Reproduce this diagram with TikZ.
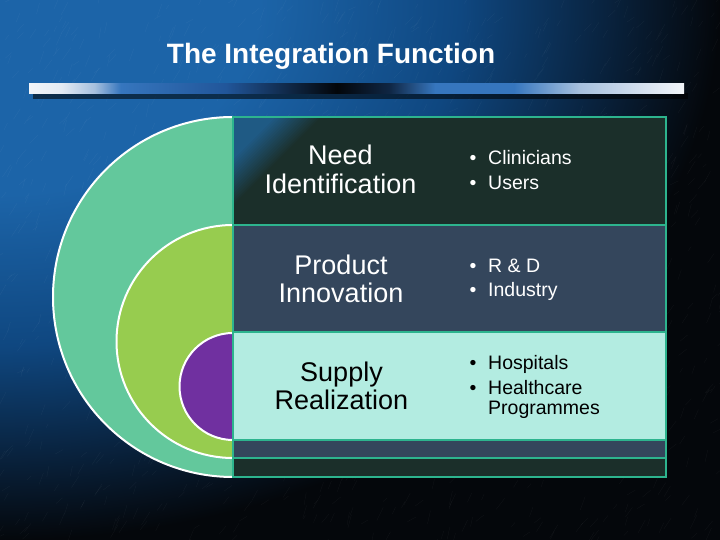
\documentclass[tikz,border=0pt]{standalone}
\usepackage{fontspec}
\setmainfont{Liberation Sans}
\definecolor{bgA}{HTML}{1C64A8}
\definecolor{bgB}{HTML}{0F4780}
\definecolor{bgC}{HTML}{09233F}
\definecolor{bgD}{HTML}{04070B}
\definecolor{barW}{HTML}{F2F5F9}
\definecolor{barL}{HTML}{A6C0DE}
\definecolor{barB}{HTML}{3676BE}
\definecolor{barM}{HTML}{21569A}
\definecolor{barK}{HTML}{03060A}
\definecolor{discT}{HTML}{63C89C}
\definecolor{discG}{HTML}{97CC4F}
\definecolor{discP}{HTML}{7030A0}
\definecolor{rowDark}{HTML}{1B2F2A}
\definecolor{rowBlue}{HTML}{1F5A84}
\definecolor{rowSlate}{HTML}{34465C}
\definecolor{rowLight}{HTML}{B3ECE1}
\definecolor{tblBorder}{HTML}{2DB48E}
\pgfdeclareradialshading{bgshade}{\pgfpoint{0bp}{0bp}}{color(0bp)=(bgA); color(9bp)=(bgA); color(16bp)=(bgB); color(21bp)=(bgC); color(25bp)=(bgD); color(50bp)=(bgD)}
\pgfdeclarehorizontalshading{barshade}{100bp}{color(0bp)=(barW); color(25bp)=(barW); color(27.5bp)=(barW!80!barL); color(30bp)=(barL); color(32bp)=(barB); color(40bp)=(barM); color(45bp)=(barK!60!barM); color(48.5bp)=(barK); color(52.5bp)=(barK!60!barM); color(56bp)=(barB); color(62bp)=(barB); color(67bp)=(barL); color(72.5bp)=(barW!70!barL); color(75bp)=(barW); color(100bp)=(barW)}
\tikzset{
  cell/.style={draw=tblBorder, line width=2.4pt, anchor=north west, minimum width=433pt, inner sep=0pt, outer sep=0pt},
  lbl/.style={align=center, anchor=base, inner sep=0pt, font=\fontsize{27}{28.5}\selectfont},
  bul/.style={anchor=base, inner sep=0pt, font=\fontsize{19.5}{21}\selectfont},
  itm/.style={anchor=base west, align=left, inner sep=0pt, font=\fontsize{19.5}{20.7}\selectfont},
  disc/.style={draw=white, line width=2pt},
}
\begin{document}
\begin{tikzpicture}[x=1pt,y=1pt]
\useasboundingbox (0,0) rectangle (720,540);
% background
\begin{scope}
\clip (0,0) rectangle (720,540);
\shade[shading=bgshade] (-720,0) rectangle (720,1080);
\pgfmathsetseed{11}
\foreach \i in {1,...,1400}{
  \draw[white, opacity=0.05, line width=0.35pt] (rnd*740-10, rnd*560-10) -- ++(58:4+rnd*12);
}
\end{scope}
% title
\node[anchor=base, inner sep=0pt, text=white, font=\bfseries\fontsize{28}{32}\selectfont] (title) at (331,476) {The Integration Function};
% bar with shadow
\fill[black, opacity=0.55] (33,441) rectangle (688,447);
\shade[shading=barshade] (29,446) rectangle (684,456);
% half discs
\begin{scope}
\clip (0,0) rectangle (233,540);
\coordinate (cT) at (233,243);
\coordinate (cG) at (233,198.5);
\coordinate (cP) at (233,153.5);
\fill[discT] (cT) circle (180);
\draw[disc] (cT) circle (180);
\fill[discG] (cG) circle (116.5);
\draw[disc] (cG) circle (116.5);
\fill[discP] (cP) circle (53.5);
\draw[disc] (cP) circle (53.5);
\end{scope}
% row 1 background with blue corner
\begin{scope}
\clip (233,315) rectangle (666,423);
\fill[rowDark] (233,315) rectangle (666,423);
\foreach \d in {62,60,...,0}{
  \pgfmathsetmacro\p{\d<28 ? 100 : max(0,100-(\d-28)*100/34)}
  \fill[rowBlue!\p!rowDark] (233+\d*1.4142+3,423) -- (233,423-\d*1.4142-3) -- (233,423) -- cycle;
}
\end{scope}
% table rows
\node[cell, minimum height=108pt] (r1) at (233,423) {};
\node[cell, fill=rowSlate, minimum height=107pt] (r2) at (233,315) {};
\node[cell, fill=rowLight, minimum height=108pt] (r3) at (233,208) {};
\node[cell, fill=rowSlate, minimum height=18pt] (r4) at (233,100) {};
\node[cell, fill=rowDark, minimum height=19pt] (r5) at (233,82) {};
% row 1 text
\node[lbl, text=white] (t1) at (340.5,346.7) {Need\\Identification};
\node[bul, text=white] (b1a) at (473,375.7) {•};
\node[itm, text=white] (i1a) at (488,375.7) {Clinicians};
\node[bul, text=white] (b1b) at (473,350.7) {•};
\node[itm, text=white] (i1b) at (488,350.7) {Users};
% row 2 text
\node[lbl, text=white] (t2) at (341,237.3) {Product\\Innovation};
\node[bul, text=white] (b2a) at (473,267.3) {•};
\node[itm, text=white] (i2a) at (488,267.3) {R \& D};
\node[bul, text=white] (b2b) at (473,243.3) {•};
\node[itm, text=white] (i2b) at (488,243.3) {Industry};
% row 3 text
\node[lbl, text=black] (t3) at (341.5,130) {Supply\\Realization};
\node[bul, text=black] (b3a) at (473,170.7) {•};
\node[itm, text=black] (i3a) at (488,170.7) {Hospitals};
\node[bul, text=black] (b3b) at (473,145.7) {•};
\node[itm, text=black] (i3b) at (488,125) {Healthcare\\Programmes};
\end{tikzpicture}
\end{document}
